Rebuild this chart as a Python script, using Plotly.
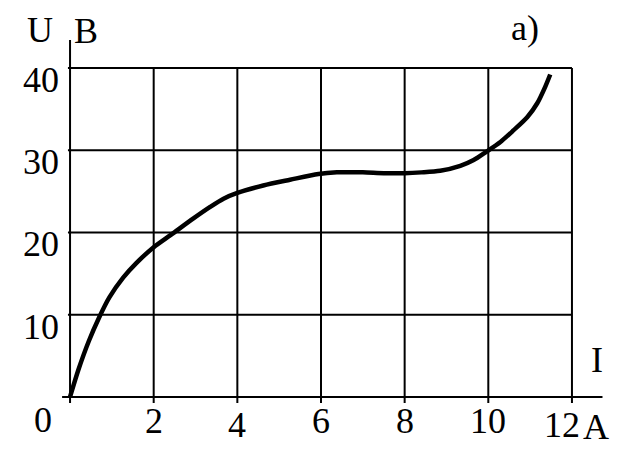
import plotly.graph_objects as go

# Data
current_I = [0.0, 0.2, 0.45, 0.69, 0.94, 1.27, 1.59, 2.0, 2.41, 2.95, 3.35, 3.67,
             4.0, 4.62, 5.26, 5.94, 6.38, 7.0, 7.5, 8.0, 8.4, 8.85, 9.33, 9.65,
             9.95, 10.29, 10.6, 10.93, 11.17, 11.36, 11.48]
voltage_U = [0.0, 3.3, 6.8, 9.6, 12.1, 14.5, 16.3, 18.2, 19.7, 21.7, 23.1, 24.1,
             24.8, 25.7, 26.4, 27.1, 27.3, 27.3, 27.2, 27.2, 27.3, 27.5, 28.1, 28.8,
             29.8, 31.0, 32.4, 34.0, 35.7, 37.7, 39.2]

x_ticks = [2, 4, 6, 8, 10, 12]
x_tick_labels = ["2", "4", "6", "8", "10", "12"]
y_ticks = [10, 20, 30, 40]
y_tick_labels = ["10", "20", "30", "40"]
x_grid = [0, 2, 4, 6, 8, 10, 12]
y_grid = [0, 10, 20, 30, 40]

FONT = "Liberation Serif, Times New Roman, serif"
FS = 36

# page offset of the plot div (default body margin)
OFF = 8
W, H = 625 - OFF, 454 - OFF
L, R, T, B = 52, 20, 27, 49
PW, PH = W - L - R, H - T - B


def px_to_paper_x(px):
    return (px - OFF - L) / PW


def px_to_paper_y(py):
    return (H - B - (py - OFF)) / PH


fig = go.Figure()

fig.add_trace(go.Scatter(
    x=current_I, y=voltage_U, mode="lines",
    line=dict(color="black", width=4.5, shape="spline", smoothing=0.8),
    hoverinfo="skip", showlegend=False,
))

shapes = []
for xv in x_grid[1:]:
    shapes.append(dict(type="line", xref="x", yref="y", x0=xv, x1=xv, y0=-0.75, y1=40,
                       line=dict(color="black", width=2)))
for yv in y_grid[1:]:
    shapes.append(dict(type="line", xref="x", yref="y", x0=-0.05, x1=12, y0=yv, y1=yv,
                       line=dict(color="black", width=2)))
shapes.append(dict(type="line", xref="x", yref="y", x0=0, x1=0, y0=-0.75, y1=43.4,
                   line=dict(color="black", width=2)))
shapes.append(dict(type="line", xref="x", yref="y", x0=-0.19, x1=12.73, y0=0, y1=0,
                   line=dict(color="black", width=2)))

txt_font = dict(family=FONT, size=FS, color="black")
annotations = []
for xv, lab in zip(x_ticks, x_tick_labels):
    annotations.append(dict(x=xv, y=px_to_paper_y(421), xref="x", yref="paper", text=lab,
                            showarrow=False, xanchor="center", yanchor="middle",
                            xshift=(-10 if xv == 12 else 0),
                            yshift=(-4 if xv in (4, 12) else 0),
                            font=txt_font))
for yv, lab in zip(y_ticks, y_tick_labels):
    annotations.append(dict(x=px_to_paper_x(61), y=yv, xref="paper", yref="y", text=lab,
                            showarrow=False, xanchor="right", yanchor="middle", yshift=-12,
                            font=txt_font))
for txt, px, py in [("0", 43, 420), ("U", 40, 30), ("B", 86, 31), ("a)", 525, 28),
                    ("I", 597, 360), ("A", 596, 427)]:
    annotations.append(dict(x=px_to_paper_x(px), y=px_to_paper_y(py), xref="paper",
                            yref="paper", text=txt, showarrow=False, xanchor="center",
                            yanchor="middle", font=txt_font))

fig.update_layout(
    width=W, height=H,
    margin=dict(l=L, r=R, t=T, b=B),
    paper_bgcolor="white", plot_bgcolor="white",
    xaxis=dict(range=[-0.24, 12.79], visible=False, showgrid=False, zeroline=False),
    yaxis=dict(range=[-0.98, 44.0], visible=False, showgrid=False, zeroline=False),
    shapes=shapes, annotations=annotations,
    showlegend=False,
)

fig.write_html("out.html")
